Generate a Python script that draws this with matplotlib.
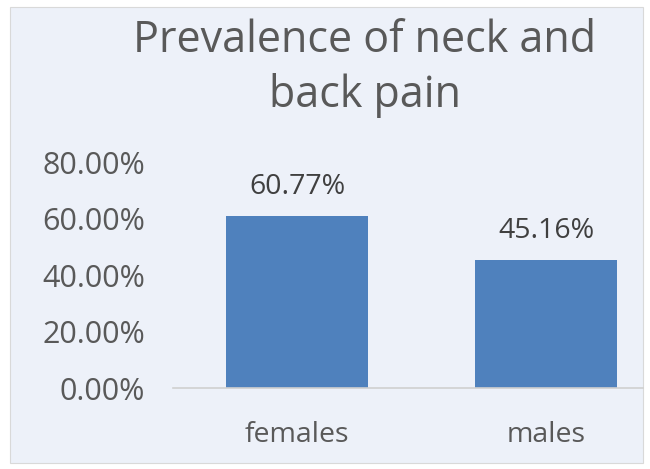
import matplotlib
matplotlib.use("Agg")
import matplotlib.pyplot as plt
from matplotlib.patches import Rectangle
from matplotlib.ticker import FuncFormatter

groups = ["females", "males"]
prevalence = [0.6077, 0.4516]
y_ticks = [0.0, 0.2, 0.4, 0.6, 0.8]

plt.rcParams['font.family'] = ['Open Sans', 'DejaVu Sans']
W, H = 650, 469
fig = plt.figure(figsize=(W / 100, H / 100), dpi=100)
fig.patch.set_facecolor("white")

# light panel behind the chart
bg = "#EDF1F9"
fig.patches.append(Rectangle((10 / W, 1 - 463 / H), 633 / W, 456 / H,
                             transform=fig.transFigure, facecolor=bg,
                             edgecolor="#D9D9D9", lw=0.8, zorder=-5))

ax = fig.add_axes([173 / W, 1 - 388 / H, 470 / W, 226 / H])
ax.set_facecolor("none")
bars = ax.bar(range(len(groups)), prevalence, width=0.57, color="#4F81BD")
ax.set_xlim(-0.5, 1.39)
ax.set_ylim(0, 0.8)
ax.set_yticks(y_ticks)
ax.yaxis.set_major_formatter(FuncFormatter(lambda v, p: f"{v * 100:.2f}%"))
ax.set_xticks(range(len(groups)))
ax.set_xticklabels(groups)
for s in ["top", "right", "left"]:
    ax.spines[s].set_visible(False)
ax.spines["bottom"].set_color("#D0D0D0")
ax.spines["bottom"].set_linewidth(1.2)
ax.tick_params(length=0, labelsize=22, colors="#595959")
ax.tick_params(axis="y", pad=20)
ax.tick_params(axis="x", labelsize=20.5, pad=24)

for b, v in zip(bars, prevalence):
    ax.annotate(f"{v * 100:.2f}%", (b.get_x() + b.get_width() / 2, v),
                xytext=(0, 11), textcoords="offset points", ha="center",
                va="bottom", fontsize=20.5, color="#404040")

fig.text(365 / W, 1 - 68 / H, "Prevalence of neck and\nback pain", ha="center",
         va="center", fontsize=31, color="#595959", linespacing=1.3)

fig.savefig("out.png", dpi=100)
